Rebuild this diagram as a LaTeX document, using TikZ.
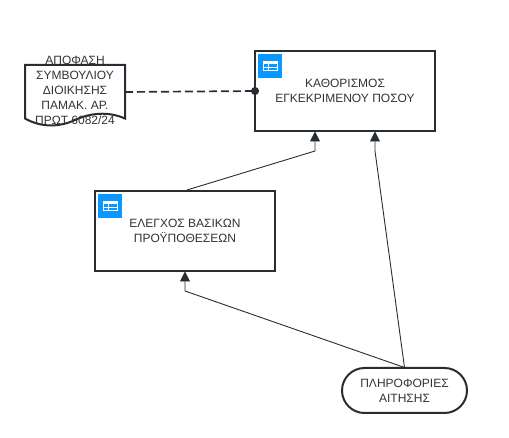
\documentclass[tikz,border=0pt]{standalone}
\usepackage{fontspec}
\setmainfont{Liberation Sans}
\usetikzlibrary{arrows.meta,bending,calc}
\definecolor{ink}{HTML}{282C33}
\definecolor{txt}{HTML}{333333}
\definecolor{iconblue}{HTML}{0A97FF}
\tikzset{
  lbl/.style={text=txt,font=\fontsize{12}{15}\selectfont,align=center,inner sep=0pt},
  procbox/.style={lbl,draw=ink,line width=2pt,fill=white,minimum width=180pt,minimum height=80pt},
  pill/.style={lbl,draw=ink,line width=2pt,fill=white,rounded corners=22.5pt,minimum width=125pt,minimum height=45pt},
  doctext/.style={lbl},
  docshape/.style={draw=ink,line width=2pt,fill=white,line join=miter},
  flow/.style={draw=ink,line width=0.9pt,-{Triangle[length=10pt,width=10pt,flex=0]}},
  assoc/.style={draw=ink,line width=1.7pt,dash pattern=on 8pt off 4pt,-{Circle[length=8pt,width=8pt]}},
  iconbg/.style={fill=iconblue,draw=none,minimum size=24pt,inner sep=0pt},
}
\newcommand{\tableicon}[1]{%
  \fill[white] ($(#1.center)+(-7.5,-5)$) rectangle ($(#1.center)+(7.5,5)$);
  \fill[iconblue] ($(#1.center)+(-6.5,-1.5)$) rectangle ($(#1.center)+(-2.5,1)$);
  \fill[iconblue] ($(#1.center)+(-1.5,-1.5)$) rectangle ($(#1.center)+(6.5,1)$);
  \fill[iconblue] ($(#1.center)+(-6.5,2)$) rectangle ($(#1.center)+(-2.5,4)$);
  \fill[iconblue] ($(#1.center)+(-1.5,2)$) rectangle ($(#1.center)+(6.5,4)$);
}
\begin{document}
\begin{tikzpicture}[x=1pt,y=-1pt]
\useasboundingbox (0,0) rectangle (509,438);
\draw[docshape] (25,65) -- (125,65) -- (125,118.5)
  .. controls (108,111) and (90,113) .. (75,120)
  .. controls (60,127) and (42,128) .. (25,118.5) -- cycle;
\node[doctext] (doc) at (75,90.5) {ΑΠΟΦΑΣΗ\\ΣΥΜΒΟΥΛΙΟΥ\\ΔΙΟΙΚΗΣΗΣ\\ΠΑΜΑΚ. ΑΡ.\\ΠΡΩΤ 6082/24};
\node[procbox] (target) at (345,91) {ΚΑΘΟΡΙΣΜΟΣ\\ΕΓΚΕΚΡΙΜΕΝΟΥ ΠΟΣΟΥ};
\node[procbox] (check) at (185,231) {ΕΛΕΓΧΟΣ ΒΑΣΙΚΩΝ\\ΠΡΟΫΠΟΘΕΣΕΩΝ};
\node[pill] (info) at (404.5,390.5) {ΠΛΗΡΟΦΟΡΙΕΣ\\ΑΙΤΗΣΗΣ};
\node[iconbg] (icona) at (270,66) {};
\tableicon{icona}
\node[iconbg] (iconb) at (110,206) {};
\tableicon{iconb}
\coordinate (docout) at (125,92);
\coordinate (targetleft) at (255,91);
\coordinate (checktop) at (187,190);
\coordinate (targetinA) at (315,131.5);
\coordinate (targetinB) at (375,131.5);
\coordinate (infotop) at (404.5,367.5);
\coordinate (checkbot) at (185,271.5);
\draw[flow] (checktop) -- (315,151) -- (targetinA);
\draw[flow] (infotop) -- (375,151) -- (targetinB);
\draw[flow] (infotop) -- (185,291) -- (checkbot);
\draw[assoc] (docout) -- ($(targetleft)+(4,0)$);
\end{tikzpicture}
\end{document}
